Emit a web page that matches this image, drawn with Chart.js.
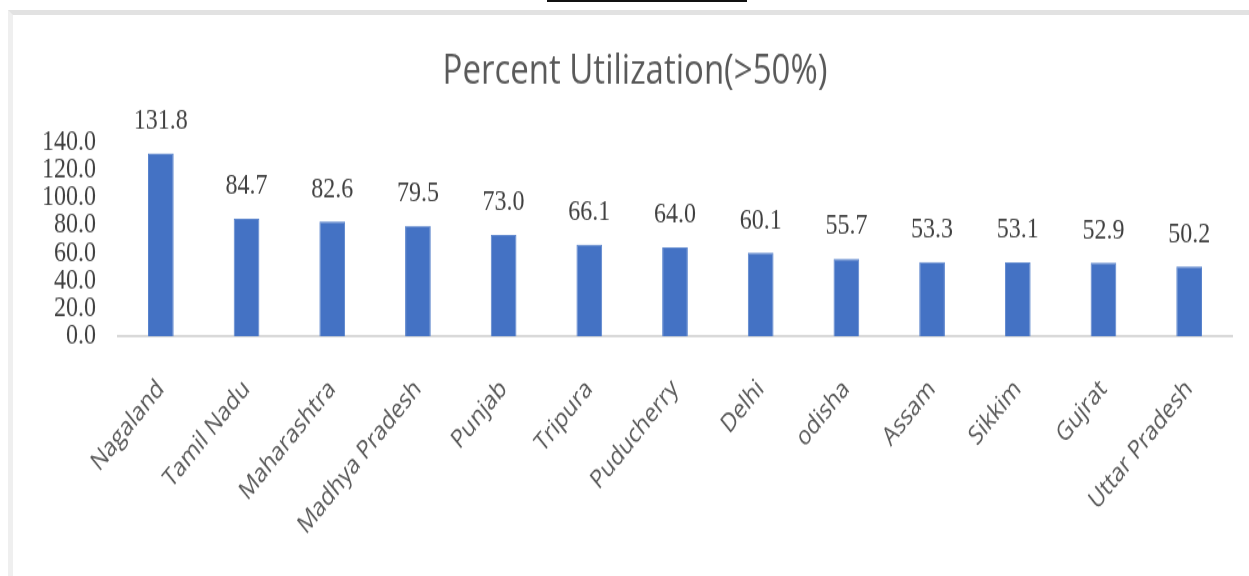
<!DOCTYPE html>
<html>
<head>
<meta charset="utf-8">
<script src="https://cdn.jsdelivr.net/npm/chart.js@4.4.1/dist/chart.umd.min.js"></script>
<style>
  html, body { margin: 0; padding: 0; background: #fff; overflow: hidden; }
  body { width: 1249px; height: 576px; position: relative; }
  .topline { position: absolute; left: 547px; top: 0; width: 200px; height: 2px; background: #111; }
  .frame { position: absolute; left: 8px; top: 10px; right: 0; bottom: 0;
           border-top: 5px solid #e2e2e2; border-left: 5px solid #efefef; }
  /* chart is laid out short and stretched vertically */
  .wrap { position: absolute; left: 0; top: 0; width: 1249px; height: 461px;
          transform: scaleY(1.2495); transform-origin: 0 0; }
</style>
</head>
<body>
<div class="topline"></div>
<div class="frame"></div>
<div class="wrap"><canvas id="utilChart" width="1249" height="461"></canvas></div>
<script>
const states = ['Nagaland', 'Tamil Nadu', 'Maharashtra', 'Madhya Pradesh', 'Punjab', 'Tripura',
  'Puducherry', 'Delhi', 'odisha', 'Assam', 'Sikkim', 'Gujrat', 'Uttar Pradesh'];
const utilization = [131.8, 84.7, 82.6, 79.5, 73.0, 66.1, 64.0, 60.1, 55.7, 53.3, 53.1, 52.9, 50.2];
const yTicks = [0, 20, 40, 60, 80, 100, 120, 140];

const numFont = { family: 'Liberation Serif', size: 24 };

// value labels above each bar
const barValues = {
  id: 'barValues',
  afterDatasetsDraw(chart) {
    const ctx = chart.ctx;
    const meta = chart.getDatasetMeta(0);
    ctx.save();
    ctx.font = numFont.size + 'px "' + numFont.family + '"';
    ctx.fillStyle = '#404040';
    ctx.textAlign = 'center';
    ctx.textBaseline = 'middle';
    meta.data.forEach((bar, i) => {
      ctx.fillText(utilization[i].toFixed(1), bar.x, bar.y - 26);
    });
    ctx.restore();
  }
};

new Chart(document.getElementById('utilChart'), {
  type: 'bar',
  data: {
    labels: states,
    datasets: [{
      data: utilization,
      backgroundColor: '#4472C4',
      borderColor: '#5a84cc',
      borderWidth: 1,
      categoryPercentage: 1,
      barPercentage: 0.30
    }]
  },
  options: {
    responsive: false,
    animation: false,
    layout: { padding: { left: 38, right: 17, top: 0, bottom: 0 } },
    plugins: {
      legend: { display: false },
      tooltip: { enabled: false },
      title: {
        display: true,
        text: 'Percent Utilization(>50%)',
        color: '#595959',
        font: { family: 'Open Sans', size: 33, weight: 'normal' },
        padding: { top: 38, bottom: 36 }
      }
    },
    scales: {
      x: {
        grid: { display: false, drawTicks: false },
        border: { color: '#d9d9d9', width: 2 },
        ticks: {
          color: '#595959',
          font: { family: 'Open Sans', size: 21 },
          minRotation: 45,
          maxRotation: 45,
          autoSkip: false,
          padding: 30
        },
        afterFit(scale) { scale.height = 192; }
      },
      y: {
        min: 0,
        max: 140,
        grid: { display: false, drawTicks: false },
        border: { display: false },
        afterBuildTicks(scale) { scale.ticks = yTicks.map(v => ({ value: v })); },
        ticks: {
          color: '#404040',
          font: numFont,
          autoSkip: false,
          padding: 22,
          callback: v => v.toFixed(1)
        },
        afterFit(scale) { scale.width = 80; }
      }
    }
  },
  plugins: [barValues]
});
</script>
</body>
</html>
